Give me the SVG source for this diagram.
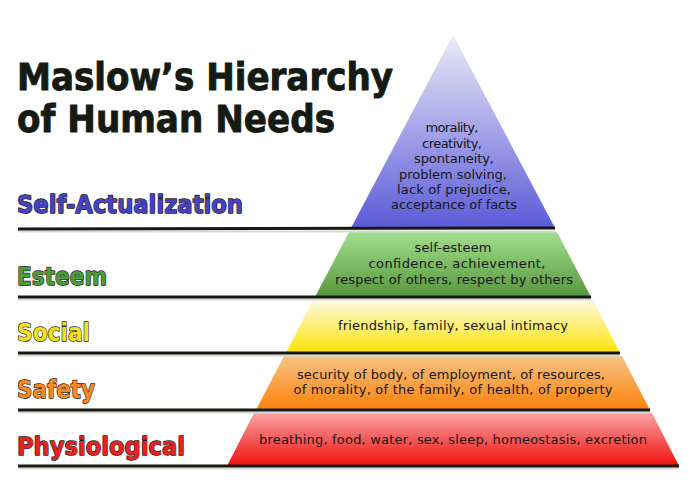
<svg xmlns="http://www.w3.org/2000/svg" width="700" height="500" viewBox="0 0 700 500">
<defs>
<linearGradient id="gSelf" x1="0" y1="0" x2="0" y2="1"><stop offset="0" stop-color="#ecebf7"/><stop offset="1" stop-color="#5b5bd9"/></linearGradient>
<linearGradient id="gEst" x1="0" y1="0" x2="0" y2="1"><stop offset="0" stop-color="#a3df8e"/><stop offset="1" stop-color="#56963c"/></linearGradient>
<linearGradient id="gSoc" x1="0" y1="0" x2="0" y2="1"><stop offset="0" stop-color="#fdf9df"/><stop offset="1" stop-color="#fde406"/></linearGradient>
<linearGradient id="gSaf" x1="0" y1="0" x2="0" y2="1"><stop offset="0" stop-color="#f8c383"/><stop offset="1" stop-color="#fb8109"/></linearGradient>
<linearGradient id="gPhy" x1="0" y1="0" x2="0" y2="1"><stop offset="0" stop-color="#f8a3a3"/><stop offset="1" stop-color="#f20f0c"/></linearGradient>
</defs>
<style>
.title{font-family:"DejaVu Sans",sans-serif;font-weight:bold;font-size:37px;fill:#151a12;stroke:#151a12;stroke-width:0.9px}
.lab{font-family:"DejaVu Sans",sans-serif;font-weight:bold;font-size:25px;stroke:#1e2218;stroke-width:1.4px;paint-order:stroke;stroke-linejoin:round}
.t{font-family:"DejaVu Sans",sans-serif;font-size:13px;fill:#161616;text-anchor:middle}
.ln{stroke:#151a10;stroke-width:3;fill:none}
.sh{stroke:#d8d8d4;stroke-width:2;fill:none}
</style>
<rect width="700" height="500" fill="#ffffff"/>
<g id="title">
<text class="title" x="17" y="90" textLength="376" lengthAdjust="spacingAndGlyphs">Maslow’s Hierarchy</text>
<text class="title" x="17" y="132" textLength="318" lengthAdjust="spacingAndGlyphs">of Human Needs</text>
</g>
<g id="self-actualization">
<polygon points="453,35 555,228 351,228" fill="url(#gSelf)"/>
<text class="t" x="452" y="132" textLength="53">morality,</text>
<text class="t" x="452" y="147.5" textLength="60">creativity,</text>
<text class="t" x="454" y="163" textLength="80">spontaneity,</text>
<text class="t" x="453" y="178.5" textLength="108">problem solving,</text>
<text class="t" x="454" y="194" textLength="114">lack of prejudice,</text>
<text class="t" x="454" y="209" textLength="126">acceptance of facts</text>
<text class="lab" x="17" y="213" fill="#4343c4" textLength="226" lengthAdjust="spacingAndGlyphs">Self-Actualization</text>
</g>
<g id="esteem">
<polygon points="349,232 557,232 591,297 315,297" fill="url(#gEst)"/>
<text class="t" x="453" y="252" textLength="77">self-esteem</text>
<text class="t" x="457" y="268" textLength="177">confidence, achievement,</text>
<text class="t" x="454" y="284" textLength="238">respect of others, respect by others</text>
<text class="lab" x="17" y="285" fill="#4b9a3c" textLength="90" lengthAdjust="spacingAndGlyphs">Esteem</text>
</g>
<g id="social">
<polygon points="313,300 593,300 620,353 286,353" fill="url(#gSoc)"/>
<text class="t" x="453" y="330" textLength="230">friendship, family, sexual intimacy</text>
<text class="lab" x="17" y="341" fill="#f3e21a" textLength="73" lengthAdjust="spacingAndGlyphs">Social</text>
</g>
<g id="safety">
<polygon points="284,356 622,356 650,410 256,410" fill="url(#gSaf)"/>
<text class="t" x="451" y="379" textLength="308">security of body, of employment, of resources,</text>
<text class="t" x="453" y="394" textLength="319">of morality, of the family, of health, of property</text>
<text class="lab" x="17" y="398" fill="#f48a22" textLength="78" lengthAdjust="spacingAndGlyphs">Safety</text>
</g>
<g id="physiological">
<polygon points="254,413 652,413 679,466 227,466" fill="url(#gPhy)"/>
<text class="t" x="453" y="444" textLength="388">breathing, food, water, sex, sleep, homeostasis, excretion</text>
<text class="lab" x="17" y="455" fill="#e42222" textLength="168" lengthAdjust="spacingAndGlyphs">Physiological</text>
</g>
<g id="connectors">
<line class="sh" x1="18" y1="231.5" x2="555" y2="231.5"/>
<line class="sh" x1="18" y1="299.5" x2="591" y2="299.5"/>
<line class="sh" x1="18" y1="355.5" x2="620" y2="355.5"/>
<line class="sh" x1="18" y1="412.5" x2="650" y2="412.5"/>
<line class="sh" x1="18" y1="468.5" x2="679" y2="468.5"/>
<line class="ln" x1="18" y1="229" x2="555" y2="228"/>
<line class="ln" x1="18" y1="297" x2="591" y2="297"/>
<line class="ln" x1="18" y1="353" x2="620" y2="353"/>
<line class="ln" x1="18" y1="410" x2="650" y2="410"/>
<line class="ln" x1="18" y1="466" x2="679" y2="466"/>
</g>
</svg>
